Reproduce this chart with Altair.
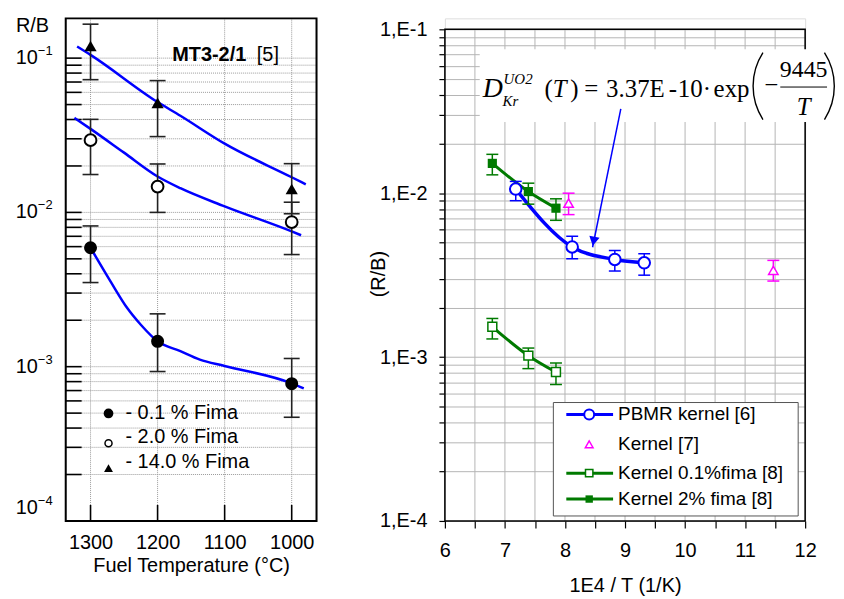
import altair as alt
import pandas as pd

SANS = "Liberation Sans"
SERIF = "Liberation Serif"

# ---------------- left panel data (MT3-2/1 [5]) ----------------
temp_c = [1300, 1200, 1000]
rb_01 = [0.0059, 0.00146, 0.000776]
rb_01_lo = [0.00351, 0.00093, 0.00047]
rb_01_hi = [0.00817, 0.0022, 0.00113]
rb_20 = [0.0294, 0.0147, 0.00866]
rb_20_lo = [0.0176, 0.0100, 0.00533]
rb_20_hi = [0.0401, 0.0206, 0.01164]
rb_14 = [0.120, 0.0513, 0.0142]
rb_14_lo = [0.0725, 0.031, 0.0098]
rb_14_hi = [0.166, 0.0715, 0.0207]

fit14_t = [1320, 1300, 1200, 1166, 1100, 1000, 979]
fit14_v = [0.119, 0.105, 0.0519, 0.0423, 0.0279, 0.0169, 0.0152]
fit20_t = [1324, 1300, 1250, 1200, 1166, 1100, 1000, 986]
fit20_v = [0.0410, 0.0348, 0.0244, 0.0171, 0.01435, 0.01094, 0.00753, 0.00711]
fit01_t = [1300, 1270, 1245, 1225, 1200, 1166, 1137, 1100, 1000, 982]
fit01_v = [0.0059, 0.00356, 0.00239, 0.00187, 0.00146, 0.00126, 0.00111, 0.00101, 0.00078, 0.000724]

temp_ticks = [1300, 1200, 1100, 1000]
decades = [0.1, 0.01, 0.001]
decade_exp = ["\u22121", "\u22122", "\u22123"]
bottom_decade = [0.0001]
bottom_exp = ["\u22124"]
legend_L = ["- 0.1 % Fima", "- 2.0 % Fima", "- 14.0 % Fima"]

# ---------------- right panel data ----------------
pbmr_x = [7.18, 8.12, 8.83, 9.32]
pbmr_y = [0.0106, 0.0047, 0.00394, 0.00376]
pbmr_lo = [0.0090, 0.00398, 0.00335, 0.00316]
pbmr_hi = [0.0118, 0.00546, 0.00447, 0.00427]
k7_x = [8.06, 11.47]
k7_y = [0.00869, 0.00338]
k7_lo = [0.0074, 0.00291]
k7_hi = [0.0100, 0.00389]
k01_x = [6.79, 7.39, 7.85]
k01_y = [0.00153, 0.00102, 0.00081]
k01_lo = [0.00129, 0.00085, 0.00068]
k01_hi = [0.00172, 0.001135, 0.00092]
k2_x = [6.79, 7.39, 7.85]
k2_y = [0.0152, 0.01023, 0.0081]
k2_lo = [0.01294, 0.00857, 0.00683]
k2_hi = [0.01726, 0.01151, 0.00924]
arrow_x = [8.93, 8.46]
arrow_y = [0.0327, 0.00468]

x_ticks_R = [6, 6.5, 7, 7.5, 8, 8.5, 9, 9.5, 10, 10.5, 11, 11.5, 12]
right_decades = [0.1, 0.01, 0.001, 0.0001]
right_labels = ["1,E-1", "1,E-2", "1,E-3", "1,E-4"]
legend_R = ["PBMR kernel [6]", "Kernel [7]", "Kernel 0.1%fima [8]", "Kernel 2% fima [8]"]

BLUE = "#0000ff"
GREEN = "#007a00"
MAGENTA = "#ff00ff"

minor_vals = [round(m * 10.0 ** e, 10) for e in (-4, -3, -2) for m in range(1, 10)] + [0.1]

ONE = pd.DataFrame({"k": [0]})


def txt(text, x, y, size, align="left", baseline="alphabetic", font=SANS,
        weight="normal", style="normal", color="black", angle=0):
    return alt.Chart(ONE).mark_text(
        text=text, align=align, baseline=baseline, fontSize=size, font=font,
        fontWeight=weight, fontStyle=style, color=color, angle=angle
    ).encode(x=alt.value(x), y=alt.value(y))


# ================= LEFT PANEL =================
W_L, H_L = 252, 505
xsc_L = alt.Scale(domain=[963, 1337], reverse=True, nice=False, zero=False)
ysc_L = alt.Scale(type="log", domain=[1e-4, 0.181], nice=False)
X_AX_L = alt.Axis(values=temp_ticks, format="d", title="Fuel Temperature (\u00b0C)",
                  ticks=False, tickSize=0, domain=False, grid=False, labelFlush=False,
                  labelFontSize=20, labelPadding=12, labelFont=SANS, labelColor="black",
                  titleFontSize=20, titleFont=SANS, titleFontWeight="normal",
                  titlePadding=3, titleColor="black")


def XL(f):
    return alt.X(f, type="quantitative", scale=xsc_L, axis=X_AX_L)


def YL(f):
    return alt.Y(f, type="quantitative", scale=ysc_L, axis=None)


df_hgrid_L = pd.DataFrame({"v": minor_vals})
hgrid_L = alt.Chart(df_hgrid_L).mark_rule(color="#9a9a9a", strokeWidth=1, strokeDash=[1, 1]).encode(
    y=YL("v"), x=alt.value(16), x2=alt.value(W_L))
ytick_L = alt.Chart(df_hgrid_L).mark_rule(color="black", strokeWidth=1.6).encode(
    y=YL("v"), x=alt.value(0), x2=alt.value(16))

df_tt = pd.DataFrame({"t": temp_ticks})
vgrid_L = alt.Chart(df_tt).mark_rule(color="#9a9a9a", strokeWidth=1, strokeDash=[1, 1]).encode(
    x=XL("t"), y=alt.value(0), y2=alt.value(H_L - 16))
xtick_L = alt.Chart(df_tt).mark_rule(color="black", strokeWidth=1.6).encode(
    x=XL("t"), y=alt.value(H_L - 16), y2=alt.value(H_L))

df_fit = pd.DataFrame({
    "t": fit14_t + fit20_t + fit01_t,
    "v": fit14_v + fit20_v + fit01_v,
    "g": ["14"] * len(fit14_t) + ["20"] * len(fit20_t) + ["01"] * len(fit01_t),
})
fits_L = alt.Chart(df_fit).mark_line(color=BLUE, strokeWidth=2.5, interpolate="monotone").encode(
    x=XL("t"), y=YL("v"), detail="g:N")

df_L = pd.DataFrame({
    "t": temp_c * 3,
    "v": rb_01 + rb_20 + rb_14,
    "lo": rb_01_lo + rb_20_lo + rb_14_lo,
    "hi": rb_01_hi + rb_20_hi + rb_14_hi,
    "s": ["01"] * 3 + ["20"] * 3 + ["14"] * 3,
})
err_L = alt.Chart(df_L).mark_rule(color="#222", strokeWidth=1.6).encode(
    x=XL("t"), y=YL("lo"), y2="hi:Q")
cap_lo_L = alt.Chart(df_L).mark_rule(color="#222", strokeWidth=1.6, xOffset=-8, x2Offset=8).encode(
    x=XL("t"), x2="t:Q", y=YL("lo"))
cap_hi_L = alt.Chart(df_L).mark_rule(color="#222", strokeWidth=1.6, xOffset=-8, x2Offset=8).encode(
    x=XL("t"), x2="t:Q", y=YL("hi"))
pts01 = alt.Chart(df_L).transform_filter("datum.s == '01'").mark_point(
    shape="circle", filled=True, color="black", size=170, opacity=1).encode(x=XL("t"), y=YL("v"))
pts20 = alt.Chart(df_L).transform_filter("datum.s == '20'").mark_point(
    shape="circle", filled=True, fill="white", stroke="black", strokeWidth=2, size=140, opacity=1).encode(
    x=XL("t"), y=YL("v"))
pts14 = alt.Chart(df_L).transform_filter("datum.s == '14'").mark_point(
    shape="triangle-up", filled=True, color="black", size=150, opacity=1).encode(x=XL("t"), y=YL("v"))

df_dec = pd.DataFrame({"v": decades, "e": decade_exp})
lab10 = alt.Chart(df_dec).mark_text(text="10", align="right", baseline="middle", fontSize=20,
                                    font=SANS).encode(y=YL("v"), x=alt.value(-28))
labexp = alt.Chart(df_dec).mark_text(align="left", baseline="middle", fontSize=13, font=SANS,
                                     dy=-7).encode(y=YL("v"), x=alt.value(-28), text="e:N")
df_bdec = pd.DataFrame({"v": bottom_decade, "e": bottom_exp})
lab10b = alt.Chart(df_bdec).mark_text(text="10", align="right", baseline="middle", fontSize=20,
                                      font=SANS, dy=-13).encode(y=YL("v"), x=alt.value(-28))
labexpb = alt.Chart(df_bdec).mark_text(align="left", baseline="middle", fontSize=13, font=SANS,
                                       dy=-20).encode(y=YL("v"), x=alt.value(-28), text="e:N")

frame_L = alt.Chart(ONE).mark_rect(fillOpacity=0, stroke="black", strokeWidth=2).encode(
    x=alt.value(0), x2=alt.value(W_L), y=alt.value(0), y2=alt.value(H_L))

leg_L = [
    alt.Chart(ONE).mark_point(shape="circle", filled=True, color="black", size=95, opacity=1).encode(
        x=alt.value(43), y=alt.value(397)),
    alt.Chart(ONE).mark_point(shape="circle", filled=True, fill="white", stroke="black",
                              strokeWidth=1.5, size=50, opacity=1).encode(x=alt.value(43), y=alt.value(427)),
    alt.Chart(ONE).mark_point(shape="triangle-up", filled=True, color="black", size=80, opacity=1).encode(
        x=alt.value(43), y=alt.value(452)),
    txt(legend_L[0], 60, 397, 20, baseline="middle"),
    txt(legend_L[1], 60, 421, 20, baseline="middle"),
    txt(legend_L[2], 60, 446, 20, baseline="middle"),
]

texts_L = [
    txt("R/B", -50, 14, 20),
    txt("MT3-2/1", 107, 43, 20, weight="bold"),
    txt("[5]", 192, 43, 20),
]

left = alt.layer(
    hgrid_L, vgrid_L, ytick_L, xtick_L, fits_L, err_L, cap_lo_L, cap_hi_L,
    pts01, pts20, pts14, lab10, labexp, lab10b, labexpb, frame_L, *leg_L, *texts_L
).properties(width=W_L, height=H_L)

# ================= RIGHT PANEL =================
W_R, H_R = 362, 505
xsc_R = alt.Scale(domain=[6, 12], nice=False, zero=False)
ysc_R = alt.Scale(type="log", domain=[1e-4, 0.1166], nice=False)

yexpr = " : ".join(
    f"(datum.value > {v * 0.99} && datum.value < {v * 1.01}) ? '{lab}'"
    for v, lab in zip(right_decades, right_labels)
) + " : ''"

X_AX_R = alt.Axis(values=x_ticks_R, labelExpr="datum.value % 1 == 0 ? format(datum.value, 'd') : ''",
                  title="1E4 / T (1/K)", grid=False, domain=False, ticks=True, tickSize=7,
                  tickColor="black", tickWidth=1.2, labelFlush=False, labelOverlap=False,
                  labelFontSize=20, labelFont=SANS, labelPadding=13, labelColor="black",
                  titleFontSize=20, titleFont=SANS, titleFontWeight="normal", titlePadding=15,
                  titleColor="black")
Y_AX_R = alt.Axis(values=minor_vals, labelExpr=yexpr, title=None, grid=True, gridColor="#b4b4b4",
                  gridWidth=1, domain=False, ticks=True, tickSize=6, tickColor="black", tickWidth=1.2,
                  labelFlush=False, labelOverlap=False, labelFontSize=20, labelFont=SANS,
                  labelPadding=12, labelColor="black")


def XR(f):
    return alt.X(f, type="quantitative", scale=xsc_R, axis=X_AX_R)


def YR(f):
    return alt.Y(f, type="quantitative", scale=ysc_R, axis=Y_AX_R)


df_vg = pd.DataFrame({"x": x_ticks_R})
vgrid_R = alt.Chart(df_vg).mark_rule(color="#b4b4b4", strokeWidth=1).encode(
    x=XR("x"), y=alt.Y(datum=0.0001, type="quantitative", scale=ysc_R, axis=Y_AX_R),
    y2=alt.Y2(datum=0.1))

frame_R = alt.Chart(ONE).mark_rect(fillOpacity=0, stroke="black", strokeWidth=1.5).encode(
    x=alt.X(datum=6, type="quantitative", scale=xsc_R, axis=X_AX_R), x2=alt.X2(datum=12),
    y=alt.Y(datum=0.0001, type="quantitative", scale=ysc_R, axis=Y_AX_R), y2=alt.Y2(datum=0.1))

df_p = pd.DataFrame({"x": pbmr_x, "y": pbmr_y, "lo": pbmr_lo, "hi": pbmr_hi})
df_k7 = pd.DataFrame({"x": k7_x, "y": k7_y, "lo": k7_lo, "hi": k7_hi})
df_k01 = pd.DataFrame({"x": k01_x, "y": k01_y, "lo": k01_lo, "hi": k01_hi})
df_k2 = pd.DataFrame({"x": k2_x, "y": k2_y, "lo": k2_lo, "hi": k2_hi})


def errs(df, color, half=6, w=1.5):
    bar = alt.Chart(df).mark_rule(color=color, strokeWidth=w).encode(x=XR("x"), y=YR("lo"), y2="hi:Q")
    c1 = alt.Chart(df).mark_rule(color=color, strokeWidth=w, xOffset=-half, x2Offset=half).encode(
        x=XR("x"), x2="x:Q", y=YR("lo"))
    c2 = alt.Chart(df).mark_rule(color=color, strokeWidth=w, xOffset=-half, x2Offset=half).encode(
        x=XR("x"), x2="x:Q", y=YR("hi"))
    return [bar, c1, c2]


line_p = alt.Chart(df_p).mark_line(color=BLUE, strokeWidth=3.5, interpolate="monotone").encode(
    x=XR("x"), y=YR("y"))
line_k01 = alt.Chart(df_k01).mark_line(color=GREEN, strokeWidth=3, interpolate="monotone").encode(
    x=XR("x"), y=YR("y"))
line_k2 = alt.Chart(df_k2).mark_line(color=GREEN, strokeWidth=3, interpolate="monotone").encode(
    x=XR("x"), y=YR("y"))

pts_p = alt.Chart(df_p).mark_point(shape="circle", filled=True, fill="white", stroke=BLUE,
                                   strokeWidth=2, size=135, opacity=1).encode(x=XR("x"), y=YR("y"))
pts_k7 = alt.Chart(df_k7).mark_point(shape="triangle-up", filled=True, fill="white", stroke=MAGENTA,
                                     strokeWidth=1.5, size=90, opacity=1).encode(x=XR("x"), y=YR("y"))
pts_k01 = alt.Chart(df_k01).mark_point(shape="square", filled=True, fill="white", stroke=GREEN,
                                       strokeWidth=1.5, size=80, opacity=1).encode(x=XR("x"), y=YR("y"))
pts_k2 = alt.Chart(df_k2).mark_point(shape="square", filled=True, color=GREEN, size=85,
                                     opacity=1).encode(x=XR("x"), y=YR("y"))

# equation box and text
eq_box = alt.Chart(ONE).mark_rect(fill="white", stroke=None).encode(
    x=alt.value(35), x2=alt.value(392), y=alt.value(31), y2=alt.value(104))
EQ = 25
BASE = 79
eq = [
    txt("D", 38, BASE, 28, font=SERIF, style="italic"),
    txt("UO2", 59, 66, 15, font=SERIF, style="italic"),
    txt("Kr", 58, 88, 15, font=SERIF, style="italic"),
    txt("(", 100, BASE, EQ, font=SERIF),
    txt("T", 108.5, BASE, EQ, font=SERIF, style="italic"),
    txt(")", 126, BASE, EQ, font=SERIF),
    txt("=", 140, BASE, EQ, font=SERIF),
    txt("3.37E", 162, BASE, EQ, font=SERIF),
    txt("-", 225, BASE, EQ, font=SERIF),
    txt("10", 234, BASE, EQ, font=SERIF),
    txt("\u00b7", 259, BASE, EQ, font=SERIF),
    txt("exp", 270, BASE, EQ, font=SERIF),
    # big thin parentheses drawn as circular arcs
    alt.Chart(ONE).mark_arc(radius=62.8, radius2=61.4, theta=4.140, theta2=5.285, color="black").encode(
        x=alt.value(371.8), y=alt.value(68)),
    alt.Chart(ONE).mark_arc(radius=62.8, radius2=61.4, theta=0.998, theta2=2.143, color="black").encode(
        x=alt.value(329.2), y=alt.value(68)),
    txt("\u2212", 321, 75, EQ, font=SERIF),
    alt.Chart(ONE).mark_rule(color="black", strokeWidth=1).encode(
        x=alt.value(337), x2=alt.value(384), y=alt.value(69)),
    txt("9445", 360.5, 59, 24, font=SERIF, align="center"),
    txt("T", 360.5, 97, EQ, font=SERIF, style="italic", align="center"),
]

df_arrow = pd.DataFrame({"x0": [arrow_x[0]], "y0": [arrow_y[0]], "x1": [arrow_x[1]], "y1": [arrow_y[1]]})
arrow_line = alt.Chart(df_arrow).mark_rule(color=BLUE, strokeWidth=1.5).encode(
    x=XR("x0"), y=YR("y0"), x2="x1:Q", y2="y1:Q")
arrow_head = alt.Chart(df_arrow).mark_point(shape="triangle-down", filled=True, color=BLUE, size=110,
                                            angle=11, yOffset=-6, xOffset=1, opacity=1).encode(
    x=XR("x1"), y=YR("y1"))

# legend
leg_box = alt.Chart(ONE).mark_rect(fill="white", stroke="#555555", strokeWidth=1).encode(
    x=alt.value(109), x2=alt.value(355), y=alt.value(386), y2=alt.value(500))
rows = [398, 428, 457, 483]
leg_R = [
    alt.Chart(ONE).mark_rule(color=BLUE, strokeWidth=3).encode(
        x=alt.value(122), x2=alt.value(169), y=alt.value(rows[0])),
    alt.Chart(ONE).mark_point(shape="circle", filled=True, fill="white", stroke=BLUE, strokeWidth=2,
                              size=100, opacity=1).encode(x=alt.value(145), y=alt.value(rows[0])),
    alt.Chart(ONE).mark_point(shape="triangle-up", filled=True, fill="white", stroke=MAGENTA,
                              strokeWidth=1.5, size=60, opacity=1).encode(x=alt.value(145), y=alt.value(rows[1])),
    alt.Chart(ONE).mark_rule(color=GREEN, strokeWidth=3).encode(
        x=alt.value(122), x2=alt.value(169), y=alt.value(rows[2])),
    alt.Chart(ONE).mark_point(shape="square", filled=True, fill="white", stroke=GREEN, strokeWidth=1.5,
                              size=55, opacity=1).encode(x=alt.value(145), y=alt.value(rows[2])),
    alt.Chart(ONE).mark_rule(color=GREEN, strokeWidth=3).encode(
        x=alt.value(122), x2=alt.value(169), y=alt.value(rows[3])),
    alt.Chart(ONE).mark_point(shape="square", filled=True, color=GREEN, size=55, opacity=1).encode(
        x=alt.value(145), y=alt.value(rows[3])),
]
for i, lab in enumerate(legend_R):
    leg_R.append(txt(lab, 174, rows[i], 19, baseline="middle"))

ytitle_R = txt("(R/B)", -66, 257, 20, align="center", baseline="middle", angle=270)

right = alt.layer(
    vgrid_R, frame_R, line_p, line_k01, line_k2,
    *errs(df_p, BLUE), *errs(df_k7, MAGENTA), *errs(df_k01, GREEN), *errs(df_k2, GREEN),
    pts_p, pts_k7, pts_k01, pts_k2,
    eq_box, *eq, arrow_line, arrow_head, leg_box, *leg_R, ytitle_R
).properties(width=W_R, height=H_R)

chart = alt.hconcat(left, right, spacing=50).properties(
    padding={"left": 7, "top": 6, "right": 0, "bottom": 0}, background="white"
).configure_view(stroke=None).configure(font=SANS)

chart.save("out.html", embed_options={"renderer": "svg", "actions": False})
